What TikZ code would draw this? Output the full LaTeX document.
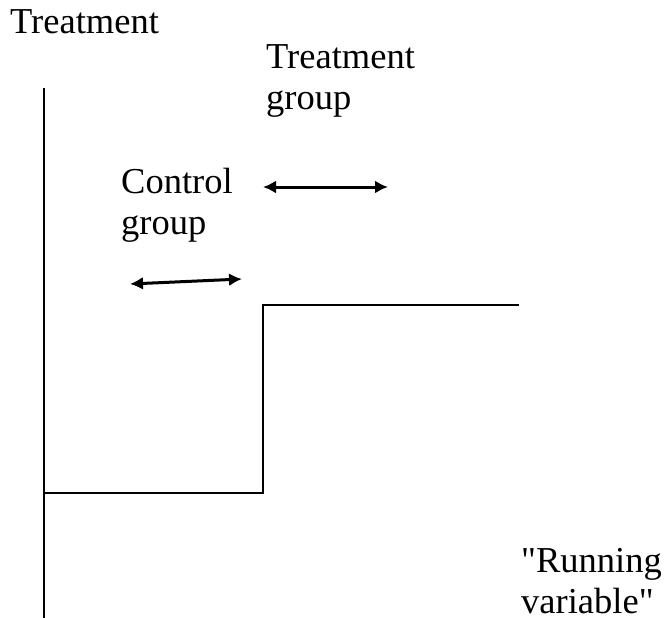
\documentclass[tikz,border=0pt]{standalone}
\usepackage{fontspec}
\defaultfontfeatures[\rmfamily]{}
\setmainfont{Liberation Serif}
\usetikzlibrary{arrows.meta}
\begin{document}
\begin{tikzpicture}[x=1pt,y=-1pt,
  lbl/.style={inner sep=0pt,font=\fontsize{36.5}{40.5}\selectfont,align=left},
  axisline/.style={line width=1.6pt},
  dbl/.style={line width=3pt,{Latex[length=13pt,width=13pt]}-{Latex[length=13pt,width=13pt]}}]
\useasboundingbox (0,0) rectangle (664,618);
\node[lbl,anchor=base west] (ylab) at (10,34) {Treatment};
\node[lbl,anchor=base west] (tg) at (266,109) {Treatment\\group};
\node[lbl,anchor=base west] (cg) at (121,234) {Control\\group};
\node[lbl,anchor=base west] (xlab) at (521,613) {"Running\\variable"};
\coordinate (ytop) at (44,88);
\coordinate (ybot) at (44,618);
\coordinate (s0) at (44,493);
\coordinate (s1) at (263,493);
\coordinate (s2) at (263,305);
\coordinate (s3) at (519,305);
\coordinate (ta) at (263,187);
\coordinate (tb) at (388,187);
\coordinate (ca) at (130,284);
\coordinate (cb) at (242,279);
\draw[axisline] (ytop) -- (ybot);
\draw[axisline] (s0) -- (s1) -- (s2) -- (s3);
\draw[dbl] (ta) -- (tb);
\draw[dbl] (ca) -- (cb);
\end{tikzpicture}
\end{document}
